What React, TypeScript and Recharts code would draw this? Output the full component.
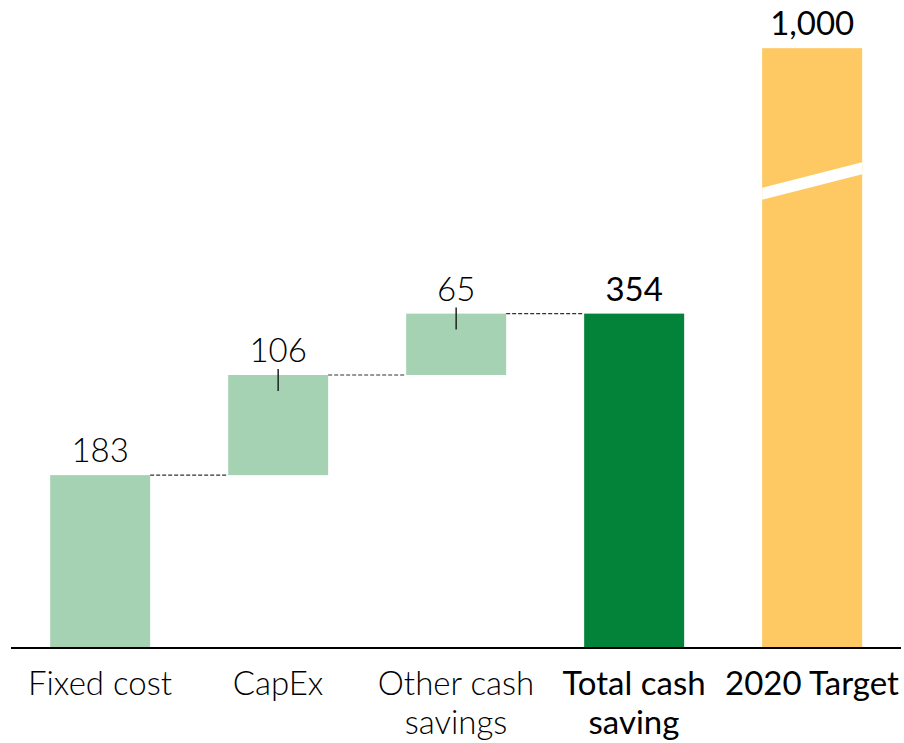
import React from 'react';
import { ComposedChart, Bar, XAxis, YAxis } from 'recharts';

const categories = ['Fixed cost', 'CapEx', 'Other cash savings', 'Total cash saving', '2020 Target'];
const tickLines = [['Fixed cost'], ['CapEx'], ['Other cash', 'savings'], ['Total cash', 'saving'], ['2020 Target']];
const emphasized = [false, false, false, true, true];
const baseValues = [0, 183, 289, 0, 0];
const deltaValues = [183, 106, 65, 354, 1000];
const valueLabels = ['183', '106', '65', '354', '1,000'];
const barColors = ['#A6D2B4', '#A6D2B4', '#A6D2B4', '#03833A', '#FEC862'];
const AXIS_CAP = 635; // broken axis: taller bars are cut here
const BREAK_LEFT = 481;
const BREAK_RIGHT = 508;

const CHART_W = 904;
const CHART_H = 743;
const MARGIN = { top: 0, right: 3, left: 11, bottom: 0 };
const BAND = (CHART_W - MARGIN.left - MARGIN.right) / categories.length;
const FONT = 'Lato, "Open Sans", sans-serif';

const data = categories.map((name, i) => ({
  name,
  base: baseValues[i],
  value: Math.min(deltaValues[i], AXIS_CAP - baseValues[i]),
  raw: deltaValues[i],
  label: valueLabels[i],
  idx: i,
}));

const ValueShape = (props: any) => {
  const { x, y, width, height, payload } = props;
  const i = payload.idx;
  const bottom = y + height;
  const ppu = height / payload.value;
  const cx = x + width / 2;
  const strong = emphasized[i];
  const els: any[] = [];
  els.push(<rect key="r" x={x} y={y} width={width} height={height} fill={barColors[i]} />);
  if (payload.raw > payload.value) {
    const yl = bottom - BREAK_LEFT * ppu;
    const yr = bottom - BREAK_RIGHT * ppu;
    const t = 6;
    els.push(
      <polygon
        key="b"
        points={`${x},${yl - t} ${x + width},${yr - t} ${x + width},${yr + t} ${x},${yl + t}`}
        fill="#ffffff"
      />
    );
  }
  if (payload.base > 0) {
    els.push(<line key="t" x1={cx} x2={cx} y1={y - 6} y2={y + 16} stroke="#222" strokeWidth={1.5} />);
  }
  if (i < 3) {
    els.push(
      <line
        key="c"
        x1={x + width}
        x2={x + BAND}
        y1={y}
        y2={y}
        stroke="#333"
        strokeWidth={1.2}
        strokeDasharray="4 2"
      />
    );
  }
  els.push(
    <text
      key="l"
      x={cx}
      y={y - 13}
      textAnchor="middle"
      fontFamily={FONT}
      fontSize={33}
      fontWeight={strong ? 400 : 300}
      fill="#000"
    >
      {payload.label}
    </text>
  );
  return <g>{els}</g>;
};

const Tick = (props: any) => {
  const { x, payload, index } = props;
  const lines = tickLines[index] || [payload.value];
  const strong = emphasized[index];
  return (
    <g>
      {lines.map((ln: string, k: number) => (
        <text
          key={k}
          x={x}
          y={695 + k * 39}
          textAnchor="middle"
          fontFamily={FONT}
          fontSize={33}
          fontWeight={strong ? 400 : 300}
          fill="#000"
        >
          {ln}
        </text>
      ))}
    </g>
  );
};

export default function App() {
  return (
    <div style={{ position: 'absolute', left: 0, top: 0, width: CHART_W, height: CHART_H, background: '#fff' }}>
      <ComposedChart width={CHART_W} height={CHART_H} data={data} margin={MARGIN} barCategoryGap="22%">
        <XAxis
          dataKey="name"
          height={95}
          tickLine={false}
          axisLine={{ stroke: '#000', strokeWidth: 2 }}
          tick={<Tick />}
          interval={0}
        />
        <YAxis hide domain={[0, 686]} />
        <Bar dataKey="base" stackId="a" fill="transparent" isAnimationActive={false} />
        <Bar dataKey="value" stackId="a" shape={<ValueShape />} isAnimationActive={false} />
      </ComposedChart>
    </div>
  );
}
